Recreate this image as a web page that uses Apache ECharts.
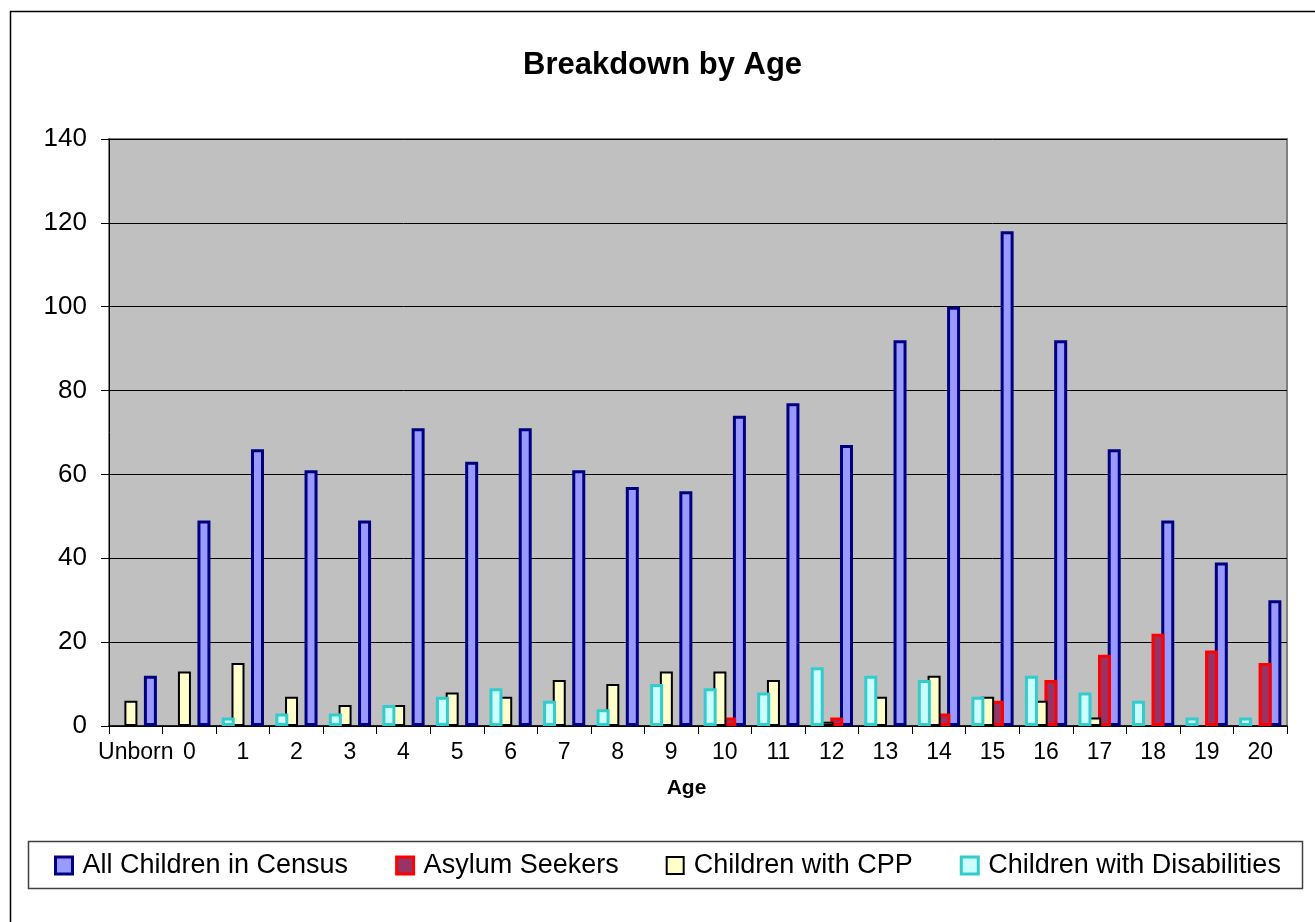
<!DOCTYPE html>
<html>
<head>
<meta charset="utf-8">
<title>Breakdown by Age</title>
<script src="https://cdn.jsdelivr.net/npm/echarts@6/dist/echarts.min.js"></script>
<style>
  html, body { margin: 0; padding: 0; background: #fff; }
  #chart { width: 1315px; height: 922px; }
</style>
</head>
<body>
<div id="chart"></div>
<script>
// categories (age)
const ages = ['Unborn', '0', '1', '2', '3', '4', '5', '6', '7', '8', '9', '10',
  '11', '12', '13', '14', '15', '16', '17', '18', '19', '20']

// series values
const allChildren = [12, 49, 66, 61, 49, 71, 63, 71, 61, 57, 56, 74, 77, 67, 92, 100, 118, 92, 66, 49, 39, 30]
const asylumSeekers = [0, 0, 0, 0, 0, 0, 0, 0, 0, 0, 0, 2, 0, 2, 0, 3, 6, 11, 17, 22, 18, 15]
const childrenCPP = [6, 13, 15, 7, 5, 5, 8, 7, 11, 10, 13, 13, 11, 1, 7, 12, 7, 6, 2, 0, 0, 0]
const childrenDisabilities = [0, 0, 2, 3, 3, 5, 7, 9, 6, 4, 10, 9, 8, 14, 12, 11, 7, 12, 8, 6, 2, 2]

// y axis ticks
const yTicks = [0, 20, 40, 60, 80, 100, 120, 140]

const FONT = '"Liberation Sans", Arial, sans-serif'

// styles per series (Excel 97 palette)
const styles = {
  'All Children in Census': { color: '#9999FF', borderColor: '#000080', borderWidth: 3 },
  'Asylum Seekers': { color: '#993366', borderColor: '#FF0000', borderWidth: 3 },
  'Children with CPP': { color: '#FFFFCC', borderColor: '#000000', borderWidth: 2 },
  'Children with Disabilities': { color: '#CCFFFF', borderColor: '#33CCCC', borderWidth: 3 }
}

// zero values are not drawn at all
const toBars = (arr) => arr.map(v => (v === 0 ? '-' : v))

// left-to-right order in each cluster, with z so the left bar sits on top
const seriesData = [
  { name: 'Children with Disabilities', data: childrenDisabilities, z: 5 },
  { name: 'Children with CPP', data: childrenCPP, z: 4 },
  { name: 'Asylum Seekers', data: asylumSeekers, z: 3 },
  { name: 'All Children in Census', data: allChildren, z: 2 }
].map(s => ({
  name: s.name,
  type: 'bar',
  z: s.z,
  barWidth: 13,
  barGap: '-25%',
  itemStyle: styles[s.name],
  emphasis: { disabled: true },
  data: toBars(s.data)
}))

const legendOrder = ['All Children in Census', 'Asylum Seekers', 'Children with CPP', 'Children with Disabilities']

const myChart = echarts.init(document.getElementById('chart'))

const myOption = {
  backgroundColor: '#ffffff',
  animation: false,

  title: {
    text: 'Breakdown by Age',
    left: 523,
    top: 50,
    padding: 0,
    textStyle: {
      color: '#000',
      fontSize: 31,
      fontWeight: 'bold',
      fontFamily: FONT
    }
  },

  legend: {
    left: 54,
    top: 852,
    padding: 0,
    itemWidth: 17,
    itemHeight: 17,
    itemGap: 47,
    selectedMode: false,
    icon: 'rect',
    data: legendOrder.map(n => ({ name: n, itemStyle: styles[n] })),
    textStyle: {
      color: '#000',
      fontSize: 27,
      lineHeight: 27,
      fontFamily: FONT,
      padding: [0, 0, 0, 5]
    }
  },

  grid: {
    left: 109,
    right: 28,
    top: 139,
    bottom: 196,
    show: true,
    backgroundColor: '#C0C0C0',
    borderColor: '#808080',
    borderWidth: 2
  },

  xAxis: {
    type: 'category',
    data: ages,
    name: 'Age',
    nameLocation: 'middle',
    nameGap: 52,
    nameTextStyle: {
      color: '#000',
      fontSize: 21,
      fontWeight: 'bold',
      fontFamily: FONT,
      padding: [0, 23, 0, 0]
    },
    axisLine: { lineStyle: { color: '#000', width: 1.5 } },
    axisTick: { show: true, length: 8, lineStyle: { color: '#000' } },
    axisLabel: {
      interval: 0,
      margin: 15,
      color: '#000',
      fontSize: 23,
      fontFamily: FONT
    },
    splitLine: { show: false }
  },

  yAxis: {
    type: 'value',
    min: yTicks[0],
    max: yTicks[yTicks.length - 1],
    interval: yTicks[1] - yTicks[0],
    axisLine: { show: true, lineStyle: { color: '#000', width: 1 } },
    axisTick: { show: true, length: 8, lineStyle: { color: '#000' } },
    axisLabel: {
      margin: 22,
      color: '#000',
      fontSize: 26,
      fontFamily: FONT
    },
    splitLine: { lineStyle: { color: '#000', width: 1 } }
  },

  graphic: [
    // outer chart frame (runs off the right and bottom of the picture)
    {
      type: 'rect',
      silent: true,
      z: -10,
      shape: { x: 10.5, y: 11.5, width: 1400, height: 1000 },
      style: { fill: null, stroke: '#000', lineWidth: 1.5 }
    },
    // legend box
    {
      type: 'rect',
      silent: true,
      z: -10,
      shape: { x: 28.5, y: 841.5, width: 1274, height: 47 },
      style: { fill: '#fff', stroke: '#404040', lineWidth: 1.5 }
    }
  ],

  series: seriesData
}

myChart.setOption(myOption)
</script>
</body>
</html>
